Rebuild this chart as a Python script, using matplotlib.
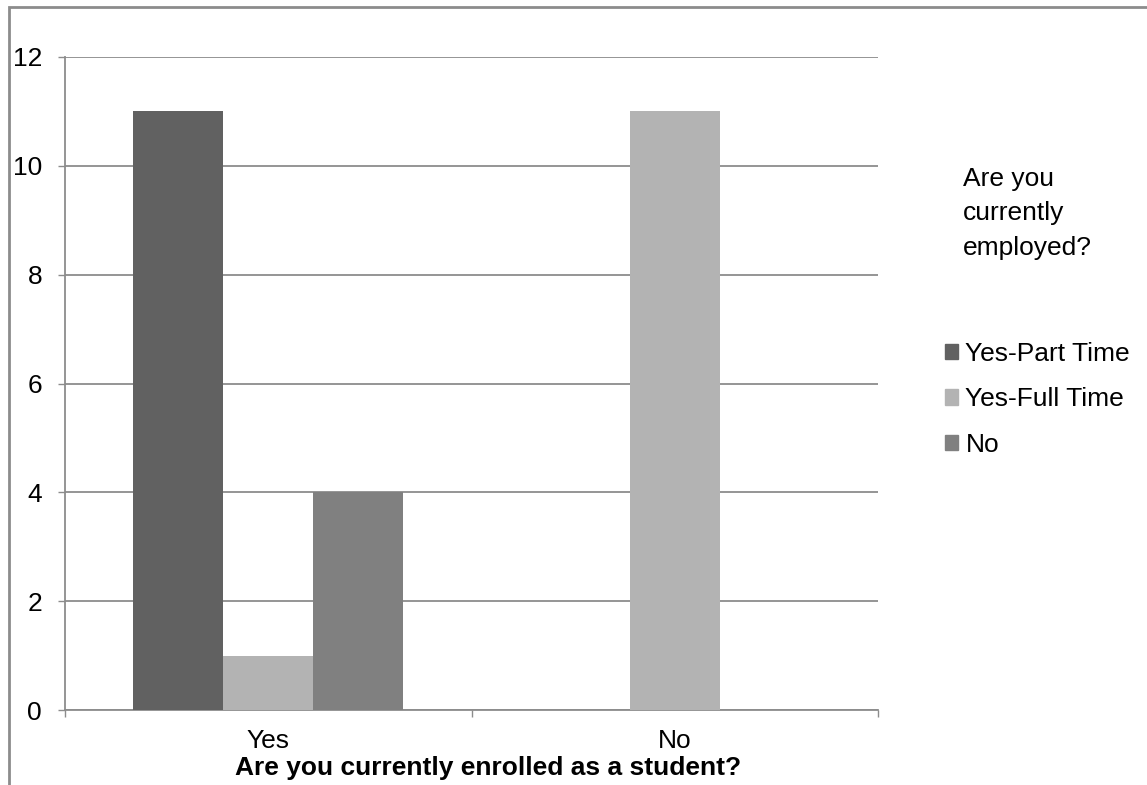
import matplotlib
matplotlib.use('Agg')
import matplotlib.pyplot as plt
import matplotlib.patches as mpatches
import numpy as np

plt.rcParams['font.family'] = ['Liberation Sans', 'DejaVu Sans']

# data
categories = ['Yes', 'No']
series_names = ['Yes-Part Time', 'Yes-Full Time', 'No']
part_time = [11, 0]
full_time = [1, 11]
not_employed = [4, 0]
colors = ['#616161', '#b3b3b3', '#808080']

W, H = 1147, 785
fig = plt.figure(figsize=(W / 100, H / 100), dpi=100)
ax = fig.add_axes([65 / W, 1 - 710 / H, (878 - 65) / W, (710 - 57) / H])

x = np.arange(len(categories))
bw = 90 / 406.5
for i, (vals, col) in enumerate(zip([part_time, full_time, not_employed], colors)):
    ax.bar(x + (i - 1) * bw, vals, width=bw, color=col, zorder=3,
           label=series_names[i])

ax.set_xlim(-0.5, 1.5)
ax.set_ylim(0, 12)
ax.set_yticks(range(0, 13, 2))
ax.yaxis.grid(True, color='#8c8c8c', linewidth=1.3, zorder=0)
ax.set_axisbelow(True)

ax.set_xticks([-0.5, 0.5, 1.5])
ax.set_xticklabels([])
ax.set_xticks(x, minor=True)
ax.set_xticklabels(categories, minor=True)

for s in ['top', 'right']:
    ax.spines[s].set_visible(False)
for s in ['left', 'bottom']:
    ax.spines[s].set_color('#8c8c8c')
    ax.spines[s].set_linewidth(1.3)

ax.tick_params(axis='y', which='major', length=5, width=1, color='#8c8c8c',
               labelsize=19, pad=11.5)
ax.tick_params(axis='x', which='major', length=5, width=1, color='#8c8c8c')
ax.tick_params(axis='x', which='minor', length=0, labelsize=19, pad=14)

ax.set_xlabel('Are you currently enrolled as a student?', fontsize=19,
              fontweight='bold')
ax.xaxis.set_label_coords(0.52, -0.070)

# legend
handles = [mpatches.Patch(color=c) for c in colors]
fig.text(963 / W, 1 - 167 / H, 'Are you\ncurrently\nemployed?', fontsize=19,
         va='top', ha='left', linespacing=1.55)
fig.legend(handles, series_names, loc='upper left',
           bbox_to_anchor=(934 / W, 1 - 331 / H), frameon=False, fontsize=19,
           handlelength=0.52, handleheight=0.52, handletextpad=0.27,
           labelspacing=0.82, borderaxespad=0)

# outer chart frame
frame = mpatches.Rectangle((9 / W, -0.2), 1.2, 1.2 - 7 / H,
                           transform=fig.transFigure, fill=False,
                           edgecolor='#8c8c8c', linewidth=2, clip_on=False)
fig.patches.append(frame)

fig.savefig('out.png', dpi=100)
